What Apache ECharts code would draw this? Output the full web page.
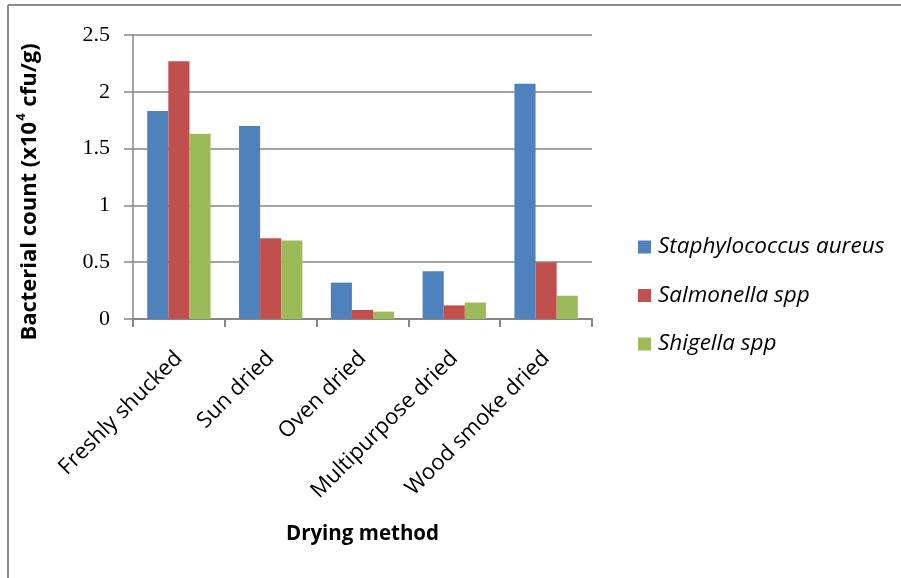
<!DOCTYPE html>
<html>
<head>
<meta charset="utf-8">
<script src="https://cdn.jsdelivr.net/npm/echarts@6/dist/echarts.min.js"></script>
<style>
  html, body { margin: 0; padding: 0; background: #fff; }
  #chart { width: 901px; height: 578px; }
</style>
</head>
<body>
<div id="chart"></div>
<script>
// Drying methods along the x axis
const categories = ['Freshly shucked', 'Sun dried', 'Oven dried', 'Multipurpose dried', 'Wood smoke dried'];

// Bacterial counts (x10^4 cfu/g) per organism
const staphylococcus = [1.83, 1.70, 0.32, 0.42, 2.07];
const salmonella = [2.27, 0.71, 0.08, 0.12, 0.50];
const shigella = [1.63, 0.69, 0.065, 0.145, 0.205];

const seriesNames = ['Staphylococcus aureus', 'Salmonella spp', 'Shigella spp'];
const seriesColors = ['#4f81bd', '#c0504d', '#9bbb59'];

// Value axis ticks
const yTicks = [0, 0.5, 1, 1.5, 2, 2.5];

const chart = echarts.init(document.getElementById('chart'));
const gray = '#868686';

const barSeries = [staphylococcus, salmonella, shigella].map((vals, i) => ({
  name: seriesNames[i],
  type: 'bar',
  data: vals,
  barGap: '0%',
  barCategoryGap: '31%',
  itemStyle: { color: seriesColors[i] },
  animation: false
}));

chart.setOption({
  animation: false,
  legend: {
    orient: 'vertical',
    left: 633,
    top: 229,
    itemWidth: 13,
    itemHeight: 13,
    itemGap: 22.5,
    icon: 'rect',
    textStyle: {
      fontFamily: 'Open Sans',
      fontStyle: 'italic',
      fontSize: 22.5,
      lineHeight: 26,
      color: '#000',
      padding: [0, 0, 0, 2]
    },
    data: seriesNames
  },
  grid: { left: 133, right: 309, top: 35, bottom: 259, containLabel: false },
  xAxis: {
    type: 'category',
    data: categories,
    name: 'Drying method',
    nameLocation: 'middle',
    nameGap: 205,
    nameTextStyle: {
      fontFamily: 'Open Sans',
      fontWeight: 'bold',
      fontSize: 20.5,
      color: '#000'
    },
    axisLine: { lineStyle: { color: gray, width: 2 } },
    axisTick: { show: true, length: 8, lineStyle: { color: gray, width: 2 } },
    axisLabel: {
      rotate: 45,
      interval: 0,
      margin: 36,
      fontFamily: 'Open Sans',
      fontSize: 22,
      color: '#000'
    }
  },
  yAxis: {
    type: 'value',
    min: yTicks[0],
    max: yTicks[yTicks.length - 1],
    interval: 0.5,
    name: '{a|Bacterial count (x10}{s|4}{a| cfu/g)}',
    nameLocation: 'middle',
    nameGap: 92,
    nameTextStyle: {
      padding: [0, 30, 0, 0],
      rich: {
        a: { fontFamily: 'Open Sans', fontWeight: 'bold', fontSize: 22, color: '#000', lineHeight: 26, verticalAlign: 'bottom' },
        s: { fontFamily: 'Open Sans', fontWeight: 'bold', fontSize: 13, color: '#000', lineHeight: 26, verticalAlign: 'top', padding: [0, 1, 10, 1] }
      }
    },
    axisLine: { show: true, lineStyle: { color: gray, width: 1.5 } },
    axisTick: { show: true, length: 9, lineStyle: { color: gray, width: 1.5 } },
    axisLabel: {
      margin: 23,
      fontFamily: 'Liberation Serif',
      fontSize: 22,
      color: '#000',
      formatter: v => String(v)
    },
    splitLine: { show: true, lineStyle: { color: gray, width: 1.5 } }
  },
  graphic: [
    { type: 'line', shape: { x1: 8, y1: 5, x2: 901, y2: 5 }, style: { stroke: '#8c8c8c', lineWidth: 2 } },
    { type: 'line', shape: { x1: 8, y1: 5, x2: 8, y2: 578 }, style: { stroke: '#8c8c8c', lineWidth: 2 } }
  ],
  series: barSeries
});
</script>
</body>
</html>
